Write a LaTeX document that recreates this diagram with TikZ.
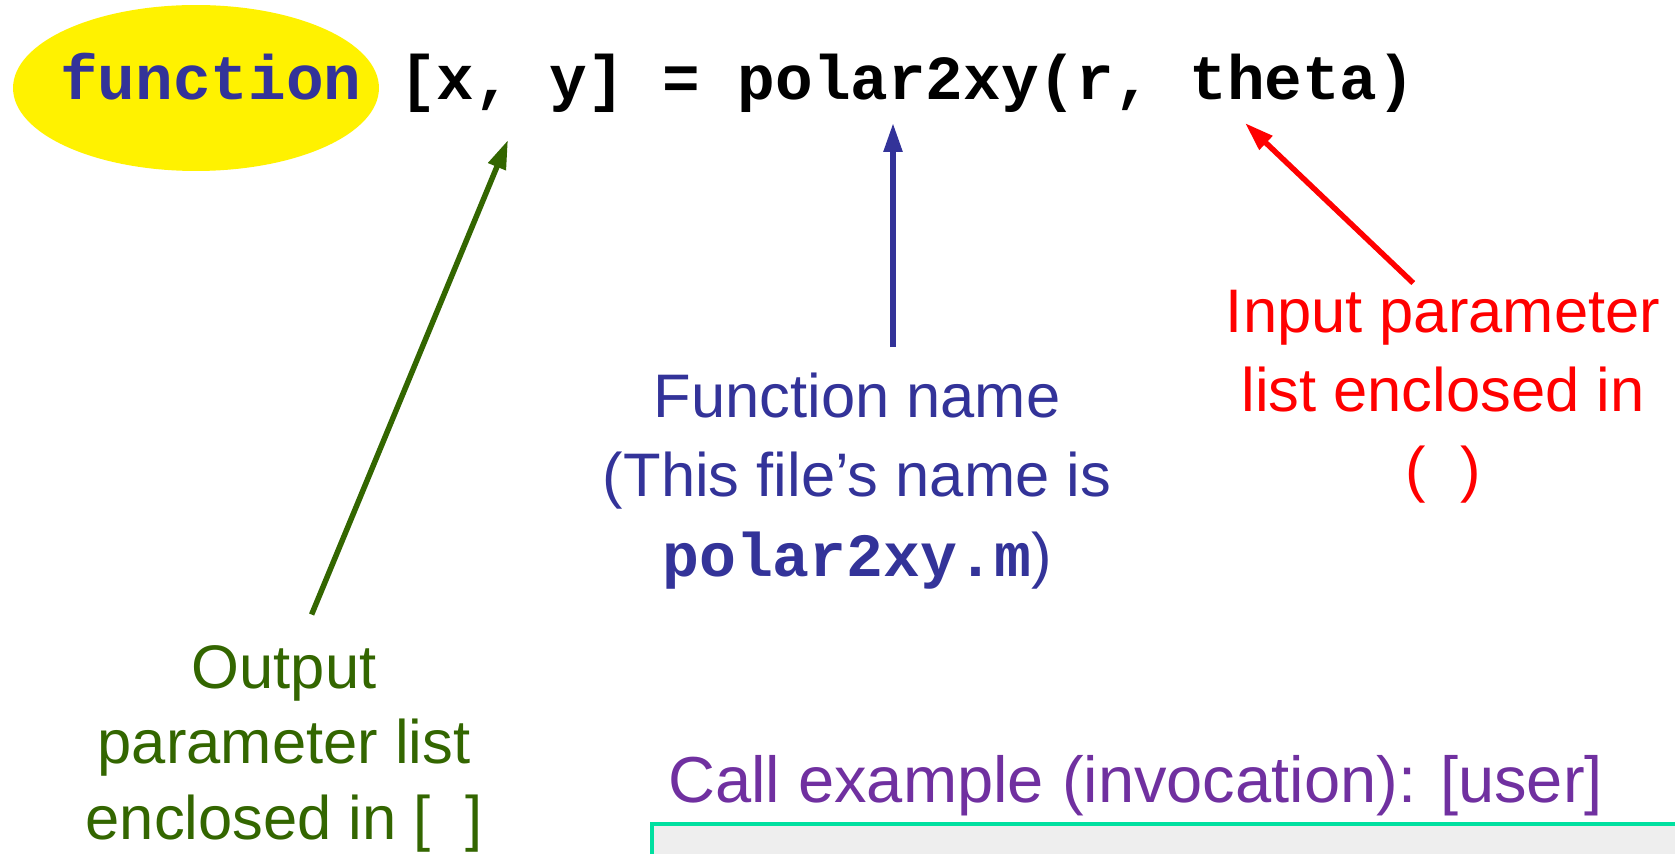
\documentclass[tikz,border=0pt]{standalone}
\usepackage{fontspec}
\setmainfont{Liberation Sans}
\setmonofont{Liberation Mono}
\usetikzlibrary{arrows.meta,shapes.geometric}

\definecolor{kwblue}{HTML}{333399}
\definecolor{outgreen}{HTML}{336600}
\definecolor{inred}{HTML}{FF0000}
\definecolor{callpurple}{HTML}{7030A0}
\definecolor{boxteal}{HTML}{00E0A0}
\definecolor{boxgray}{HTML}{EEEEEE}

\tikzset{
  code/.style={font=\fontsize{35.7}{40}\selectfont\ttfamily\bfseries, inner sep=0},
  note/.style={font=\fontsize{35}{45}\selectfont, align=center, inner sep=0},
  pointer/.style={-{Triangle[length=0.58cm,width=0.36cm]}, line width=0.11cm},
}

\begin{document}
\begin{tikzpicture}[x=0.02cm,y=-0.02cm]
\useasboundingbox (0,0) rectangle (1675,854);
% highlighted keyword
\node[ellipse, fill=yellow, minimum width=7.32cm, minimum height=3.32cm] (kw) at (196,88) {};
\node[code, anchor=base west] (sig) at (60,100) {\textcolor{kwblue}{function} [x, y] = polar2xy(r, theta)};
\coordinate (outtip) at (508,140);
\coordinate (fntip) at (893,123);
\coordinate (intip) at (1245,123);

\node[note, kwblue, anchor=north] (fnlbl) at (857,373) {Function name\\(This file’s name is\\{\ttfamily\bfseries polar2xy.m})};
\node[note, inred, anchor=north] (inlbl) at (1443,290) {Input parameter\\list enclosed in\\(~~)};
\node[note, outgreen, anchor=north, font=\fontsize{35}{43}\selectfont] (outlbl) at (284,645) {Output\\parameter list\\enclosed in [~~]};

\draw[pointer, kwblue, shorten <=0.52cm] (fntip |- fnlbl.north) -- (fntip);
\draw[pointer, inred, shorten <=0.2cm] ([xshift=-0.45cm]inlbl.north) -- (intip);
\draw[pointer, outgreen, shorten <=0.66cm] ([xshift=0.3cm]outlbl.north) -- (outtip);

% call example box
\node[font=\fontsize{37}{44}\selectfont, text=callpurple, anchor=base west, inner sep=0] (call) at (668,802) {Call example (invocation): [user]};
\fill[boxgray] (652,824) rectangle (1675,854);
\draw[boxteal, line width=0.08cm] (652,854) -- (652,824) -- (1675,824);
\end{tikzpicture}
\end{document}
